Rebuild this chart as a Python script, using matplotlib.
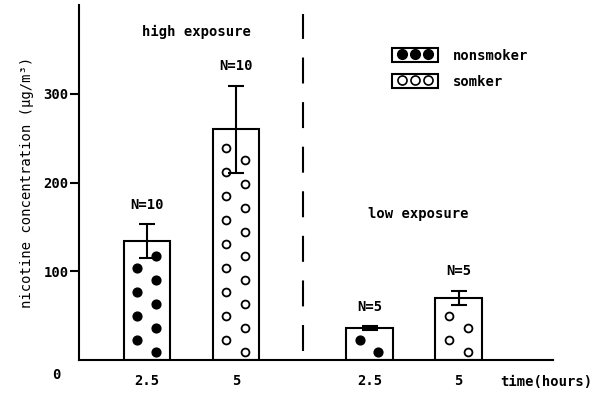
import numpy as np
import matplotlib
matplotlib.use("Agg")
import matplotlib.pyplot as plt
from matplotlib.patches import Rectangle
from matplotlib.lines import Line2D
from matplotlib.legend_handler import HandlerTuple, HandlerLine2D

plt.rcParams['font.family'] = ['DejaVu Sans Mono', 'DejaVu Sans']
plt.rcParams['font.weight'] = 'bold'
plt.rcParams['font.size'] = 10
plt.rcParams['lines.scale_dashes'] = False

# data
time_labels = ["2.5", "5", "2.5", "5"]
groups = ["nonsmoker", "smoker", "nonsmoker", "smoker"]
conc = [134, 260, 36, 70]          # ug/m3
conc_err = [19, 49, 2, 8]
n_labels = ["N=10", "N=10", "N=5", "N=5"]
positions = [0, 1, 2.5, 3.5]

fig = plt.figure(figsize=(6.05, 3.98), dpi=100)
ax = fig.add_axes([79 / 605, 1 - 360 / 398, (553 - 79) / 605, (360 - 5) / 398])

ax.bar(positions, conc, width=0.52, color="white", edgecolor="black",
       linewidth=1.5, zorder=2)
ax.errorbar(positions, conc, yerr=conc_err, fmt="none", ecolor="black",
            elinewidth=1.5, capsize=6, capthick=1.5, zorder=4)

# dot texture inside the bars (filled = nonsmoker, open = smoker)
for x, v, g in zip(positions, conc, groups):
    ys = np.arange(9, v - 8, 13.5)
    xs = np.where(np.arange(len(ys)) % 2 == 0, x + 0.10, x - 0.11)
    if g == "nonsmoker":
        ax.scatter(xs, ys, s=40, color="black", zorder=3)
    else:
        ax.scatter(xs, ys, s=32, facecolor="white", edgecolor="black",
                   linewidths=1.3, zorder=3)

for x, v, e, lab in zip(positions, conc, conc_err, n_labels):
    ax.annotate(lab, (x, v + e), xytext=(0, 14), textcoords="offset points",
                ha="center", va="center")

# separator between exposure groups
mid = (positions[1] + positions[2]) / 2
ax.axvline(mid, ymin=10 / 400, ymax=390 / 400, color="black", lw=1.5,
           dashes=(18.7, 13.4))

ax.text(0.55, 370, "high exposure", ha="center", va="center")
ax.text(3.05, 165, "low exposure", ha="center", va="center")

ax.set_xlim(-0.764, 4.56)
ax.set_ylim(0, 400)
ax.set_xticks(positions)
ax.set_xticklabels(time_labels)
ax.set_yticks([100, 200, 300])
ax.tick_params(axis="x", length=0, pad=10)
ax.tick_params(axis="y", length=6.5, width=1.5, pad=1)
for s in ["top", "right"]:
    ax.spines[s].set_visible(False)
for s in ["left", "bottom"]:
    ax.spines[s].set_linewidth(1.5)

ax.set_ylabel("nicotine concentration (μg/m³)", labelpad=7)
ax.annotate("0", (0, 0), xycoords="axes fraction", xytext=(-16, -11),
            textcoords="offset points", ha="center", va="center")
fig.text(500 / 605, 1 - 382 / 398, "time(hours)", ha="left", va="center")

# legend: boxed swatches with three dots
box1 = Rectangle((0, 0), 1, 1, facecolor="white", edgecolor="black", lw=1.5)
box2 = Rectangle((0, 0), 1, 1, facecolor="white", edgecolor="black", lw=1.5)
dots_ns = Line2D([], [], marker="o", ls="none", mfc="black", mec="black", ms=7)
dots_s = Line2D([], [], marker="o", ls="none", mfc="white", mec="black",
                mew=1.2, ms=6.5)
ax.legend([(box1, dots_ns), (box2, dots_s)], ["nonsmoker", "somker"],
          handler_map={tuple: HandlerTuple(ndivide=1),
                       Line2D: HandlerLine2D(numpoints=3, marker_pad=0.7)},
          frameon=False, handlelength=3.3, handleheight=1.2,
          handletextpad=1.1, labelspacing=0.8, borderpad=0, borderaxespad=0,
          loc="upper left", bbox_to_anchor=(392 / 605, 1 - 48 / 398),
          bbox_transform=fig.transFigure)

fig.savefig("out.png", dpi=100)
